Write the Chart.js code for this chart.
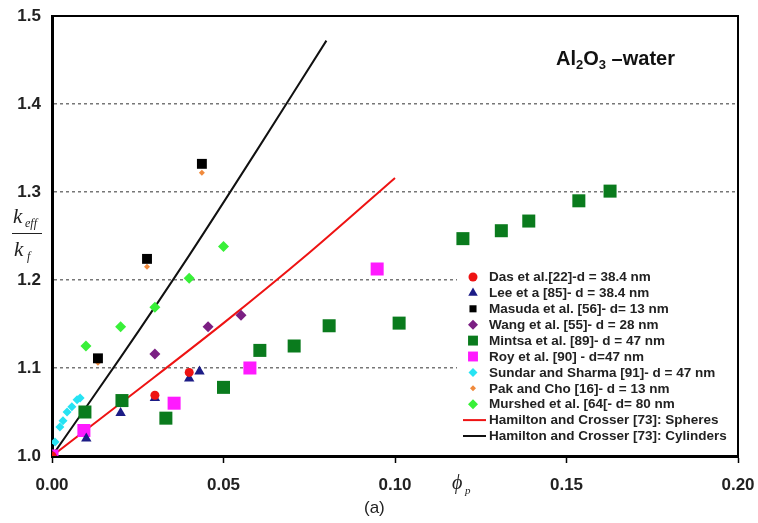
<!DOCTYPE html>
<html>
<head>
<meta charset="utf-8">
<script src="https://cdn.jsdelivr.net/npm/chart.js@4/dist/chart.umd.min.js"></script>
<style>
  html, body { margin: 0; padding: 0; background: #fff; }
  #wrap { width: 758px; height: 523px; }
</style>
</head>
<body>
<div id="wrap"><canvas id="kChart" width="758" height="523"></canvas></div>
<script>
// volume fraction (x) and k_eff/k_f (y)
const dasX = [0, 0.030, 0.040];
const dasY = [1.0, 1.069, 1.095];

const leeX = [0, 0.010, 0.020, 0.030, 0.040, 0.043];
const leeY = [1.0, 1.020, 1.049, 1.066, 1.088, 1.096];

const masudaX = [0.0134, 0.0277, 0.0437];
const masudaY = [1.111, 1.224, 1.332];

const wangX = [0, 0.030, 0.0455, 0.0551];
const wangY = [1.0, 1.116, 1.147, 1.160];

const mintsaX = [0.0096, 0.0204, 0.0332, 0.050, 0.0606, 0.0706, 0.0808, 0.1012, 0.1198, 0.131, 0.139, 0.1536, 0.1627];
const mintsaY = [1.050, 1.063, 1.043, 1.078, 1.120, 1.125, 1.148, 1.151, 1.247, 1.256, 1.267, 1.290, 1.301];

const royX = [0, 0.0093, 0.0356, 0.0577, 0.0948];
const royY = [1.0, 1.029, 1.060, 1.100, 1.2125];

const sundarX = [0, 0.0009, 0.0023, 0.0032, 0.0044, 0.0058, 0.0073, 0.0082];
const sundarY = [1.0, 1.016, 1.033, 1.040, 1.050, 1.056, 1.064, 1.066];

const pakX = [0, 0.0134, 0.0277, 0.0437];
const pakY = [1.0, 1.106, 1.215, 1.322];

const murshedX = [0.0099, 0.020, 0.030, 0.040, 0.050];
const murshedY = [1.125, 1.147, 1.169, 1.202, 1.238];

const spheresX = [0, 0.025, 0.05, 0.075, 0.1];
const spheresY = [1.0, 1.075, 1.151, 1.231, 1.316];

const cylX = [0, 0.02, 0.04, 0.06, 0.08];
const cylY = [1.0, 1.112, 1.228, 1.349, 1.472];

const xTicks = [0, 0.05, 0.10, 0.15, 0.20];
const yTicks = [1.0, 1.1, 1.2, 1.3, 1.4, 1.5];

const legendLabels = [
  'Das et al.[22]-d = 38.4 nm',
  'Lee et a [85]- d = 38.4 nm',
  'Masuda et al. [56]- d= 13 nm',
  'Wang et al. [55]- d = 28 nm',
  'Mintsa et al. [89]- d = 47 nm',
  'Roy et al. [90] - d=47 nm',
  'Sundar and Sharma [91]- d = 47 nm',
  'Pak and Cho [16]- d = 13 nm',
  'Murshed et al. [64[- d= 80 nm',
  'Hamilton and Crosser [73]: Spheres',
  'Hamilton and Crosser [73]: Cylinders'
];

const pts = (xs, ys) => xs.map((x, i) => ({ x: x, y: ys[i] }));

function markers(label, xs, ys, color, style, r, legendR) {
  return {
    label: label,
    data: pts(xs, ys),
    showLine: false,
    pointStyle: style,
    pointRadius: r,
    pointBackgroundColor: color,
    pointBorderColor: color,
    pointBorderWidth: 0,
    legendRadius: legendR,
    order: 1
  };
}

function curve(label, xs, ys, color) {
  return {
    label: label,
    data: pts(xs, ys),
    showLine: true,
    borderColor: color,
    borderWidth: 2,
    pointRadius: 0,
    tension: 0.3,
    order: 5
  };
}

const datasets = [
  markers(legendLabels[0], dasX, dasY, '#ee1313', 'circle', 4.5, 4.5),
  markers(legendLabels[1], leeX, leeY, '#1c1c86', 'triangle', 6, 5.5),
  markers(legendLabels[2], masudaX, masudaY, '#000000', 'rect', 7, 5),
  markers(legendLabels[3], wangX, wangY, '#7b1f83', 'rectRot', 5.5, 5),
  markers(legendLabels[4], mintsaX, mintsaY, '#0a7b1d', 'rect', 9.2, 7),
  markers(legendLabels[5], royX, royY, '#ff1aff', 'rect', 9.2, 7),
  markers(legendLabels[6], sundarX, sundarY, '#26e3f3', 'rectRot', 4.5, 4.5),
  markers(legendLabels[7], pakX, pakY, '#f08a3c', 'rectRot', 3, 3),
  markers(legendLabels[8], murshedX, murshedY, '#38f038', 'rectRot', 5.5, 5),
  curve(legendLabels[9], spheresX, spheresY, '#ee1313'),
  curve(legendLabels[10], cylX, cylY, '#111111')
];

const FONT = '"Liberation Sans", Arial, sans-serif';
const SERIF = '"Liberation Serif", "Times New Roman", serif';

// legend box background, drawn over the grid but under the points
const legendBox = {
  id: 'legendBox',
  beforeDatasetsDraw(chart) {
    const ctx = chart.ctx;
    const a = chart.chartArea;
    ctx.save();
    ctx.fillStyle = '#fff';
    ctx.fillRect(457, 266, a.right - 458, a.bottom - 267);
    ctx.restore();
  }
};

// frame, legend and free text drawn on top of the chart
const decorations = {
  id: 'decorations',
  afterDraw(chart) {
    const ctx = chart.ctx;
    const a = chart.chartArea;
    ctx.save();

    // top and right frame
    ctx.strokeStyle = '#000';
    ctx.lineWidth = 2;
    ctx.beginPath();
    ctx.moveTo(a.left, a.top);
    ctx.lineTo(a.right, a.top);
    ctx.lineTo(a.right, a.bottom);
    ctx.stroke();

    // legend
    let y = 277;
    const step = 15.9;
    chart.data.datasets.forEach(ds => {
      if (ds.showLine) {
        ctx.strokeStyle = ds.borderColor;
        ctx.lineWidth = 2;
        ctx.beginPath();
        ctx.moveTo(463, y);
        ctx.lineTo(486, y);
        ctx.stroke();
      } else {
        ctx.fillStyle = ds.pointBackgroundColor;
        ctx.strokeStyle = ds.pointBorderColor;
        Chart.helpers.drawPoint(ctx, {
          pointStyle: ds.pointStyle,
          radius: ds.legendRadius,
          borderWidth: 0,
          rotation: 0
        }, 473, y);
      }
      ctx.fillStyle = '#222';
      ctx.font = 'bold 13.5px ' + FONT;
      ctx.textAlign = 'left';
      ctx.textBaseline = 'middle';
      ctx.fillText(ds.label, 489, y + 0.5);
      y += step;
    });

    // Al2O3 –water
    ctx.fillStyle = '#111';
    ctx.textBaseline = 'alphabetic';
    let tx = 556;
    const parts = [['Al', 20, 0], ['2', 13, 4], ['O', 20, 0], ['3', 13, 4], [' \u2013water', 20, 0]];
    parts.forEach(p => {
      ctx.font = 'bold ' + p[1] + 'px ' + FONT;
      ctx.fillText(p[0], tx, 65 + p[2]);
      tx += ctx.measureText(p[0]).width;
    });

    // y title: k_eff / k_f
    ctx.fillStyle = '#222';
    ctx.font = 'italic 21px ' + SERIF;
    ctx.fillText('k', 13, 223);
    ctx.font = 'italic 12px ' + SERIF;
    ctx.fillText('eff', 25, 227);
    ctx.strokeStyle = '#222';
    ctx.lineWidth = 1;
    ctx.beginPath();
    ctx.moveTo(12, 233.5);
    ctx.lineTo(42, 233.5);
    ctx.stroke();
    ctx.font = 'italic 21px ' + SERIF;
    ctx.fillText('k', 14, 256);
    ctx.font = 'italic 12px ' + SERIF;
    ctx.fillText('f', 27, 260);

    // x title: phi_p
    ctx.font = 'italic 20px ' + SERIF;
    ctx.fillText('\u03D5', 452, 489);
    ctx.font = 'italic 11px ' + SERIF;
    ctx.fillText('p', 465, 494);

    // panel label
    ctx.font = '17px ' + FONT;
    ctx.fillText('(a)', 364, 513);

    ctx.restore();
  }
};

new Chart(document.getElementById('kChart'), {
  type: 'scatter',
  data: { datasets: datasets },
  options: {
    responsive: false,
    animation: false,
    layout: { padding: { left: 0, top: 16, right: 20, bottom: 0 } },
    plugins: {
      legend: { display: false },
      tooltip: { enabled: false }
    },
    scales: {
      x: {
        type: 'linear',
        min: 0,
        max: 0.2,
        afterBuildTicks: s => { s.ticks = xTicks.map(v => ({ value: v })); },
        afterFit: s => { s.height = 67; s.paddingLeft = 0; s.paddingRight = 0; },
        ticks: {
          callback: v => v.toFixed(2),
          color: '#222',
          font: { family: FONT, size: 17, weight: 'bold' },
          padding: 12,
          maxRotation: 0
        },
        grid: {
          drawOnChartArea: false,
          drawTicks: true,
          tickLength: 7,
          tickColor: '#000',
          tickWidth: 1.5
        },
        border: { display: true, color: '#000', width: 3 }
      },
      y: {
        type: 'linear',
        min: 1.0,
        max: 1.5,
        afterBuildTicks: s => { s.ticks = yTicks.map(v => ({ value: v })); },
        afterFit: s => { s.width = 52; s.paddingTop = 0; s.paddingBottom = 0; },
        ticks: {
          callback: v => v.toFixed(1),
          color: '#222',
          font: { family: FONT, size: 17, weight: 'bold' },
          padding: 11
        },
        grid: {
          drawTicks: false,
          lineWidth: 1.5,
          color: c => (c.tick && (Math.abs(c.tick.value - 1.0) < 1e-6 || Math.abs(c.tick.value - 1.5) < 1e-6)) ? 'rgba(0,0,0,0)' : '#777'
        },
        border: { display: true, color: '#000', width: 3, dash: [3, 3] }
      }
    }
  },
  plugins: [legendBox, decorations]
});
</script>
</body>
</html>
